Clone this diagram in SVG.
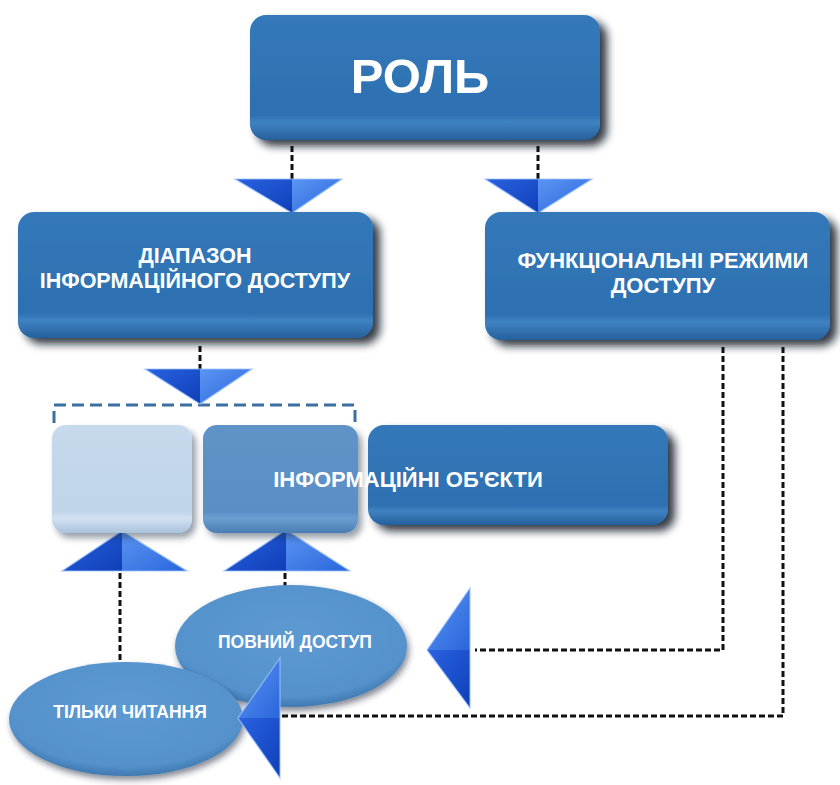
<svg xmlns="http://www.w3.org/2000/svg" width="840" height="785" viewBox="0 0 840 785">
<defs>
<linearGradient id="face" x1="0" y1="0" x2="0" y2="1">
<stop offset="0" stop-color="#3479ba"/>
<stop offset="0.8" stop-color="#2d70b1"/>
<stop offset="0.86" stop-color="#3f82c2"/>
<stop offset="1" stop-color="#25609c"/>
</linearGradient>
<linearGradient id="faceMid" x1="0" y1="0" x2="0" y2="1">
<stop offset="0" stop-color="#5f93c8"/>
<stop offset="0.8" stop-color="#5a8ec4"/>
<stop offset="0.86" stop-color="#6b9fd2"/>
<stop offset="1" stop-color="#4a7db3"/>
</linearGradient>
<linearGradient id="faceLight" x1="0" y1="0" x2="0" y2="1">
<stop offset="0" stop-color="#c6d9ed"/>
<stop offset="0.8" stop-color="#c0d4ea"/>
<stop offset="0.86" stop-color="#d2e2f2"/>
<stop offset="1" stop-color="#aac2dc"/>
</linearGradient>
<radialGradient id="ell" cx="0.5" cy="0.4" r="0.6">
<stop offset="0" stop-color="#5d9ad2"/>
<stop offset="0.85" stop-color="#5592cc"/>
<stop offset="1" stop-color="#3f79b2"/>
</radialGradient>
<linearGradient id="triA" x1="0" y1="0" x2="1" y2="1">
<stop offset="0" stop-color="#2a62e0"/>
<stop offset="1" stop-color="#0f3fb8"/>
</linearGradient>
<linearGradient id="triB" x1="0" y1="0" x2="1" y2="1">
<stop offset="0" stop-color="#5b95f2"/>
<stop offset="1" stop-color="#2a66dc"/>
</linearGradient>
<filter id="sh" x="-10%" y="-10%" width="125%" height="135%">
<feDropShadow dx="7" dy="6" stdDeviation="4" flood-color="#0a1828" flood-opacity="0.85"/>
</filter>
<filter id="shL" x="-10%" y="-10%" width="125%" height="135%">
<feDropShadow dx="4" dy="5" stdDeviation="3" flood-color="#1a2c40" flood-opacity="0.45"/>
</filter>
<filter id="shE" x="-10%" y="-10%" width="125%" height="135%">
<feDropShadow dx="2" dy="4" stdDeviation="3" flood-color="#1a2c40" flood-opacity="0.55"/>
</filter>
</defs>
<style>
.t{font-family:"Liberation Sans",Arial,sans-serif;font-weight:bold;fill:#ffffff;text-anchor:middle}
.dash{fill:none;stroke:#111111;stroke-width:3;stroke-dasharray:6 3}
.brk{fill:none;stroke:#3c6fa2;stroke-width:3;stroke-dasharray:12 6}
.edge{fill:none;stroke:#9fc3ff;stroke-width:1.2;stroke-opacity:0.8}
</style>
<rect width="840" height="785" fill="#ffffff"/>

<g id="connectors">
<line class="dash" x1="292" y1="146" x2="292" y2="180"/>
<line class="dash" x1="538" y1="146" x2="538" y2="180"/>
<line class="dash" x1="200" y1="346" x2="200" y2="370"/>
<polyline class="brk" points="54,423 54,405 355,405 355,423"/>
<line class="dash" x1="120" y1="573" x2="120" y2="662"/>
<line class="dash" x1="285" y1="573" x2="285" y2="586"/>
<polyline class="dash" points="723,347 723,650 475,650"/>
<polyline class="dash" points="783,347 783,716 282,716"/>
</g>

<g id="arrows">
<g id="tri1">
<polygon points="235,179 292,179 292,213" fill="url(#triA)"/>
<polygon points="292,179 342,179 292,213" fill="url(#triB)"/>
<polygon class="edge" points="235,179 342,179 292,213"/>
</g>
<g id="tri2">
<polygon points="485,179 538,179 538,213" fill="url(#triA)"/>
<polygon points="538,179 592,179 538,213" fill="url(#triB)"/>
<polygon class="edge" points="485,179 592,179 538,213"/>
</g>
<g id="tri3">
<polygon points="145,369 200,369 200,404" fill="url(#triA)"/>
<polygon points="200,369 252,369 200,404" fill="url(#triB)"/>
<polygon class="edge" points="145,369 252,369 200,404"/>
</g>
<g id="tri4">
<polygon points="62,571 122,531 122,571" fill="url(#triA)"/>
<polygon points="122,531 187,571 122,571" fill="url(#triB)"/>
<polygon class="edge" points="62,571 122,531 187,571"/>
</g>
<g id="tri5">
<polygon points="224,571 286,530 286,571" fill="url(#triA)"/>
<polygon points="286,530 350,571 286,571" fill="url(#triB)"/>
<polygon class="edge" points="224,571 286,530 350,571"/>
</g>
</g>

<g id="node-role">
<rect x="250" y="15" width="350" height="125" rx="16" fill="url(#face)" filter="url(#sh)"/>
<text class="t" x="420" y="93" font-size="49">РОЛЬ</text>
</g>

<g id="node-range">
<rect x="18" y="212" width="355" height="126" rx="16" fill="url(#face)" filter="url(#sh)"/>
<text class="t" x="195" y="263" font-size="21.5">ДІАПАЗОН</text>
<text class="t" x="195" y="288" font-size="21.5">ІНФОРМАЦІЙНОГО ДОСТУПУ</text>
</g>

<g id="node-modes">
<rect x="485" y="212" width="345" height="128" rx="16" fill="url(#face)" filter="url(#sh)"/>
<text class="t" x="663" y="268" font-size="22">ФУНКЦІОНАЛЬНІ РЕЖИМИ</text>
<text class="t" x="663" y="293" font-size="22">ДОСТУПУ</text>
</g>

<g id="node-obj1">
<rect x="52" y="425" width="140" height="108" rx="14" fill="url(#faceLight)" filter="url(#shL)"/>
</g>
<g id="node-obj3">
<rect x="368" y="425" width="300" height="100" rx="16" fill="url(#face)" filter="url(#sh)"/>
</g>
<g id="node-obj2">
<rect x="203" y="425" width="155" height="108" rx="14" fill="url(#faceMid)" filter="url(#shL)"/>
</g>
<text class="t" x="408" y="487" font-size="22">ІНФОРМАЦІЙНІ ОБ'ЄКТИ</text>

<g id="node-full">
<ellipse cx="291" cy="646" rx="116" ry="61" fill="url(#ell)" filter="url(#shE)"/>
<text class="t" x="295" y="648" font-size="17.5">ПОВНИЙ ДОСТУП</text>
</g>

<g id="node-read">
<ellipse cx="126" cy="719" rx="117" ry="57" fill="url(#ell)" filter="url(#shE)"/>
<text class="t" x="130" y="718" font-size="17.5">ТІЛЬКИ ЧИТАННЯ</text>
</g>

<g id="arrows-left">
<g id="tri6">
<polygon points="470,588 427,650 470,650" fill="url(#triB)"/>
<polygon points="427,650 470,708 470,650" fill="url(#triA)"/>
<polygon class="edge" points="470,588 427,650 470,708"/>
</g>
<g id="tri7">
<polygon points="280,658 238,718 280,718" fill="url(#triB)"/>
<polygon points="238,718 280,778 280,718" fill="url(#triA)"/>
<polygon class="edge" points="280,658 238,718 280,778"/>
</g>
</g>
</svg>
